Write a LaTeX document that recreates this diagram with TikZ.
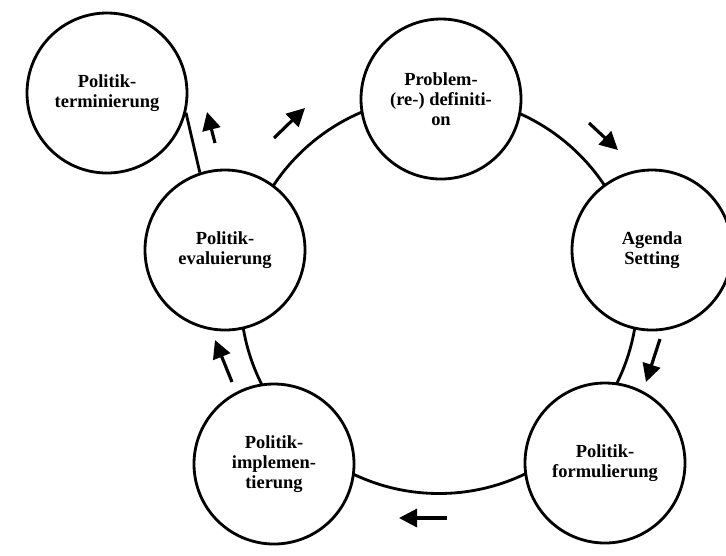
\documentclass[tikz,border=0pt]{standalone}
\usepackage{fontspec}
\setmainfont{Liberation Serif}
\usepackage{xcolor}
\usetikzlibrary{arrows.meta}

\begin{document}
\begin{tikzpicture}[
        phase/.style={draw, circle, fill=white, inner sep=0pt, minimum size=3.2cm, line width=1.6pt, align=center, font=\bfseries\fontsize{10.5}{11.5}\selectfont},
        flow/.style={line width=1.8pt, -{Triangle[length=0.36cm, width=0.36cm]}},
    ]
        \useasboundingbox (0,0) rectangle (14.52,-11.1);
        % the cycle itself
        \node[draw, circle, inner sep=0pt, minimum size=7.94cm, line width=1.6pt] (cycle) at (8.78,-5.90) {};
        \node[phase] (prob) at (8.82,-1.98) {Problem-\\(re-) definiti-\\on};
        \node[phase] (agenda) at (13.04,-5.00) {Agenda\\Setting};
        \node[phase] (formul) at (12.10,-9.26) {Politik-\\formulierung};
        \node[phase] (implem) at (5.48,-9.28) {Politik-\\implemen-\\tierung};
        \node[phase] (eval) at (4.50,-5.00) {Politik-\\evaluierung};
        \node[phase] (term) at (2.14,-1.86) {Politik-\\terminierung};
        \draw[line width=1.6pt] (term.-14) -- (eval.108);
        % direction arrows
        \draw[flow] (4.30,-2.86) -- (4.14,-2.24);
        \draw[flow] (5.48,-2.76) -- (6.10,-2.16);
        \draw[flow] (11.78,-2.46) -- (12.36,-3.00);
        \draw[flow] (13.20,-6.78) -- (12.92,-7.64);
        \draw[flow] (8.94,-10.36) -- (7.98,-10.36);
        \draw[flow] (4.64,-7.64) -- (4.30,-6.80);
    \end{tikzpicture}
\end{document}
